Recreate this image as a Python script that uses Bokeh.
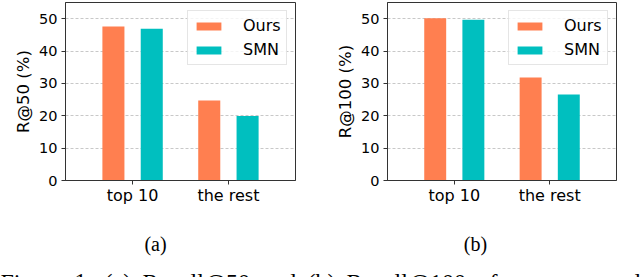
from bokeh.plotting import figure
from bokeh.models import ColumnDataSource, Range1d, FixedTicker, Legend, LegendItem, Label
from bokeh.layouts import column, row
from bokeh.transform import dodge
from bokeh.embed import file_html
from bokeh.resources import INLINE

# ---- data ----
groups = ["top 10", "the rest"]
group_pos = [0, 1]
series_names = ["Ours", "SMN"]
ours_r50 = [47.6, 24.7]
smn_r50 = [46.9, 19.9]
ours_r100 = [50.1, 31.8]
smn_r100 = [49.7, 26.6]
y_ticks = [0, 10, 20, 30, 40, 50]
grid_ticks = [10, 20, 30, 40, 50]
y_labels = ["R@50 (%)", "R@100 (%)"]
sub_labels = ["(a)", "(b)"]
caption_words = ["Figure", "1.", "(a)", "Recall@50", "and", "(b)", "Recall@100", "of", "our", "proposed"]

colors = ["#FF7F50", "#00BFBF"]
FONT = "DejaVu Sans"
SERIF = "Liberation Serif"


def make_panel(ours, smn, ylabel, bl, br, leg_x):
    src = ColumnDataSource(dict(pos=group_pos, ours=ours, smn=smn))
    p = figure(width=320, height=210, output_backend="svg", toolbar_location=None,
               x_range=Range1d(-0.7, 1.7), y_range=Range1d(0, 55),
               min_border_left=bl, min_border_right=br, min_border_top=2, min_border_bottom=30)
    r1 = p.vbar(x=dodge("pos", -0.2, range=p.x_range), top="ours", width=0.23, source=src,
                fill_color=colors[0], line_color=None)
    r2 = p.vbar(x=dodge("pos", 0.2, range=p.x_range), top="smn", width=0.23, source=src,
                fill_color=colors[1], line_color=None)
    p.outline_line_color = "#333333"
    p.outline_line_width = 1
    p.background_fill_color = "white"
    p.border_fill_color = "white"

    p.xgrid.visible = False
    p.ygrid.ticker = FixedTicker(ticks=grid_ticks)
    p.ygrid.grid_line_color = "#c8c8c8"
    p.ygrid.grid_line_dash = "3 2"
    p.ygrid.grid_line_width = 1

    ya = p.yaxis[0]
    ya.ticker = FixedTicker(ticks=y_ticks)
    ya.axis_line_color = "#333333"
    ya.major_tick_out = 4
    ya.major_tick_in = 0
    ya.minor_tick_out = 0
    ya.minor_tick_in = 0
    ya.major_tick_line_color = "#333333"
    ya.major_label_standoff = 4
    ya.major_label_text_font = FONT
    ya.major_label_text_font_size = "14.5px"
    ya.major_label_text_color = "black"
    ya.axis_label = ylabel
    ya.axis_label_text_font = FONT
    ya.axis_label_text_font_style = "normal"
    ya.axis_label_text_font_size = "16.5px"
    ya.axis_label_text_color = "black"
    ya.axis_label_standoff = 3

    xa = p.xaxis[0]
    xa.ticker = FixedTicker(ticks=group_pos)
    xa.major_label_overrides = {g: lab for g, lab in zip(group_pos, groups)}
    xa.axis_line_color = "#333333"
    xa.major_tick_out = 4
    xa.major_tick_in = 0
    xa.minor_tick_out = 0
    xa.minor_tick_in = 0
    xa.major_tick_line_color = "#333333"
    xa.major_label_standoff = 1
    xa.major_label_text_font = FONT
    xa.major_label_text_font_size = "16px"
    xa.major_label_text_color = "black"

    legend = Legend(items=[LegendItem(label=series_names[0], renderers=[r1]),
                           LegendItem(label=series_names[1], renderers=[r2])],
                    location=(leg_x, 115))
    legend.label_text_font = FONT
    legend.label_text_font_size = "16px"
    legend.label_text_color = "black"
    legend.glyph_width = 31
    legend.glyph_height = 10
    legend.label_height = 18
    legend.spacing = 5
    legend.padding = 5
    legend.margin = 0
    legend.label_standoff = 19
    legend.border_line_color = "#cccccc"
    legend.border_line_width = 1
    legend.background_fill_color = "white"
    legend.background_fill_alpha = 0.8
    p.add_layout(legend)
    return p


p1 = make_panel(ours_r50, smn_r50, y_labels[0], 65, 25, 122)
p2 = make_panel(ours_r100, smn_r100, y_labels[1], 67, 24, 121)

# bottom strip: sub-figure captions and the (cut-off) figure caption
cap = figure(width=640, height=67, output_backend="svg", toolbar_location=None,
             x_range=Range1d(0, 640), y_range=Range1d(0, 67),
             x_axis_type=None, y_axis_type=None,
             min_border_left=0, min_border_right=0, min_border_top=0, min_border_bottom=0)
cap.outline_line_color = None
cap.grid.visible = False
for lab, x in zip(sub_labels, [155, 475]):
    cap.add_layout(Label(x=x, y=34, x_units="screen", y_units="screen", text=lab,
                         text_font=SERIF, text_font_size="20px", text_color="black",
                         text_baseline="middle", text_align="center"))
word_x = [0, 74, 104, 142, 261, 307, 346, 477, 509, 552]
for w, x in zip(caption_words, word_x):
    cap.add_layout(Label(x=x, y=-4, x_units="screen", y_units="screen", text=w,
                         text_font=SERIF, text_font_size="24px", text_color="black",
                         text_baseline="alphabetic", text_align="left"))

layout = column(row(p1, p2, spacing=0), cap, spacing=0)
open("out.html", "w").write(file_html(layout, INLINE))
